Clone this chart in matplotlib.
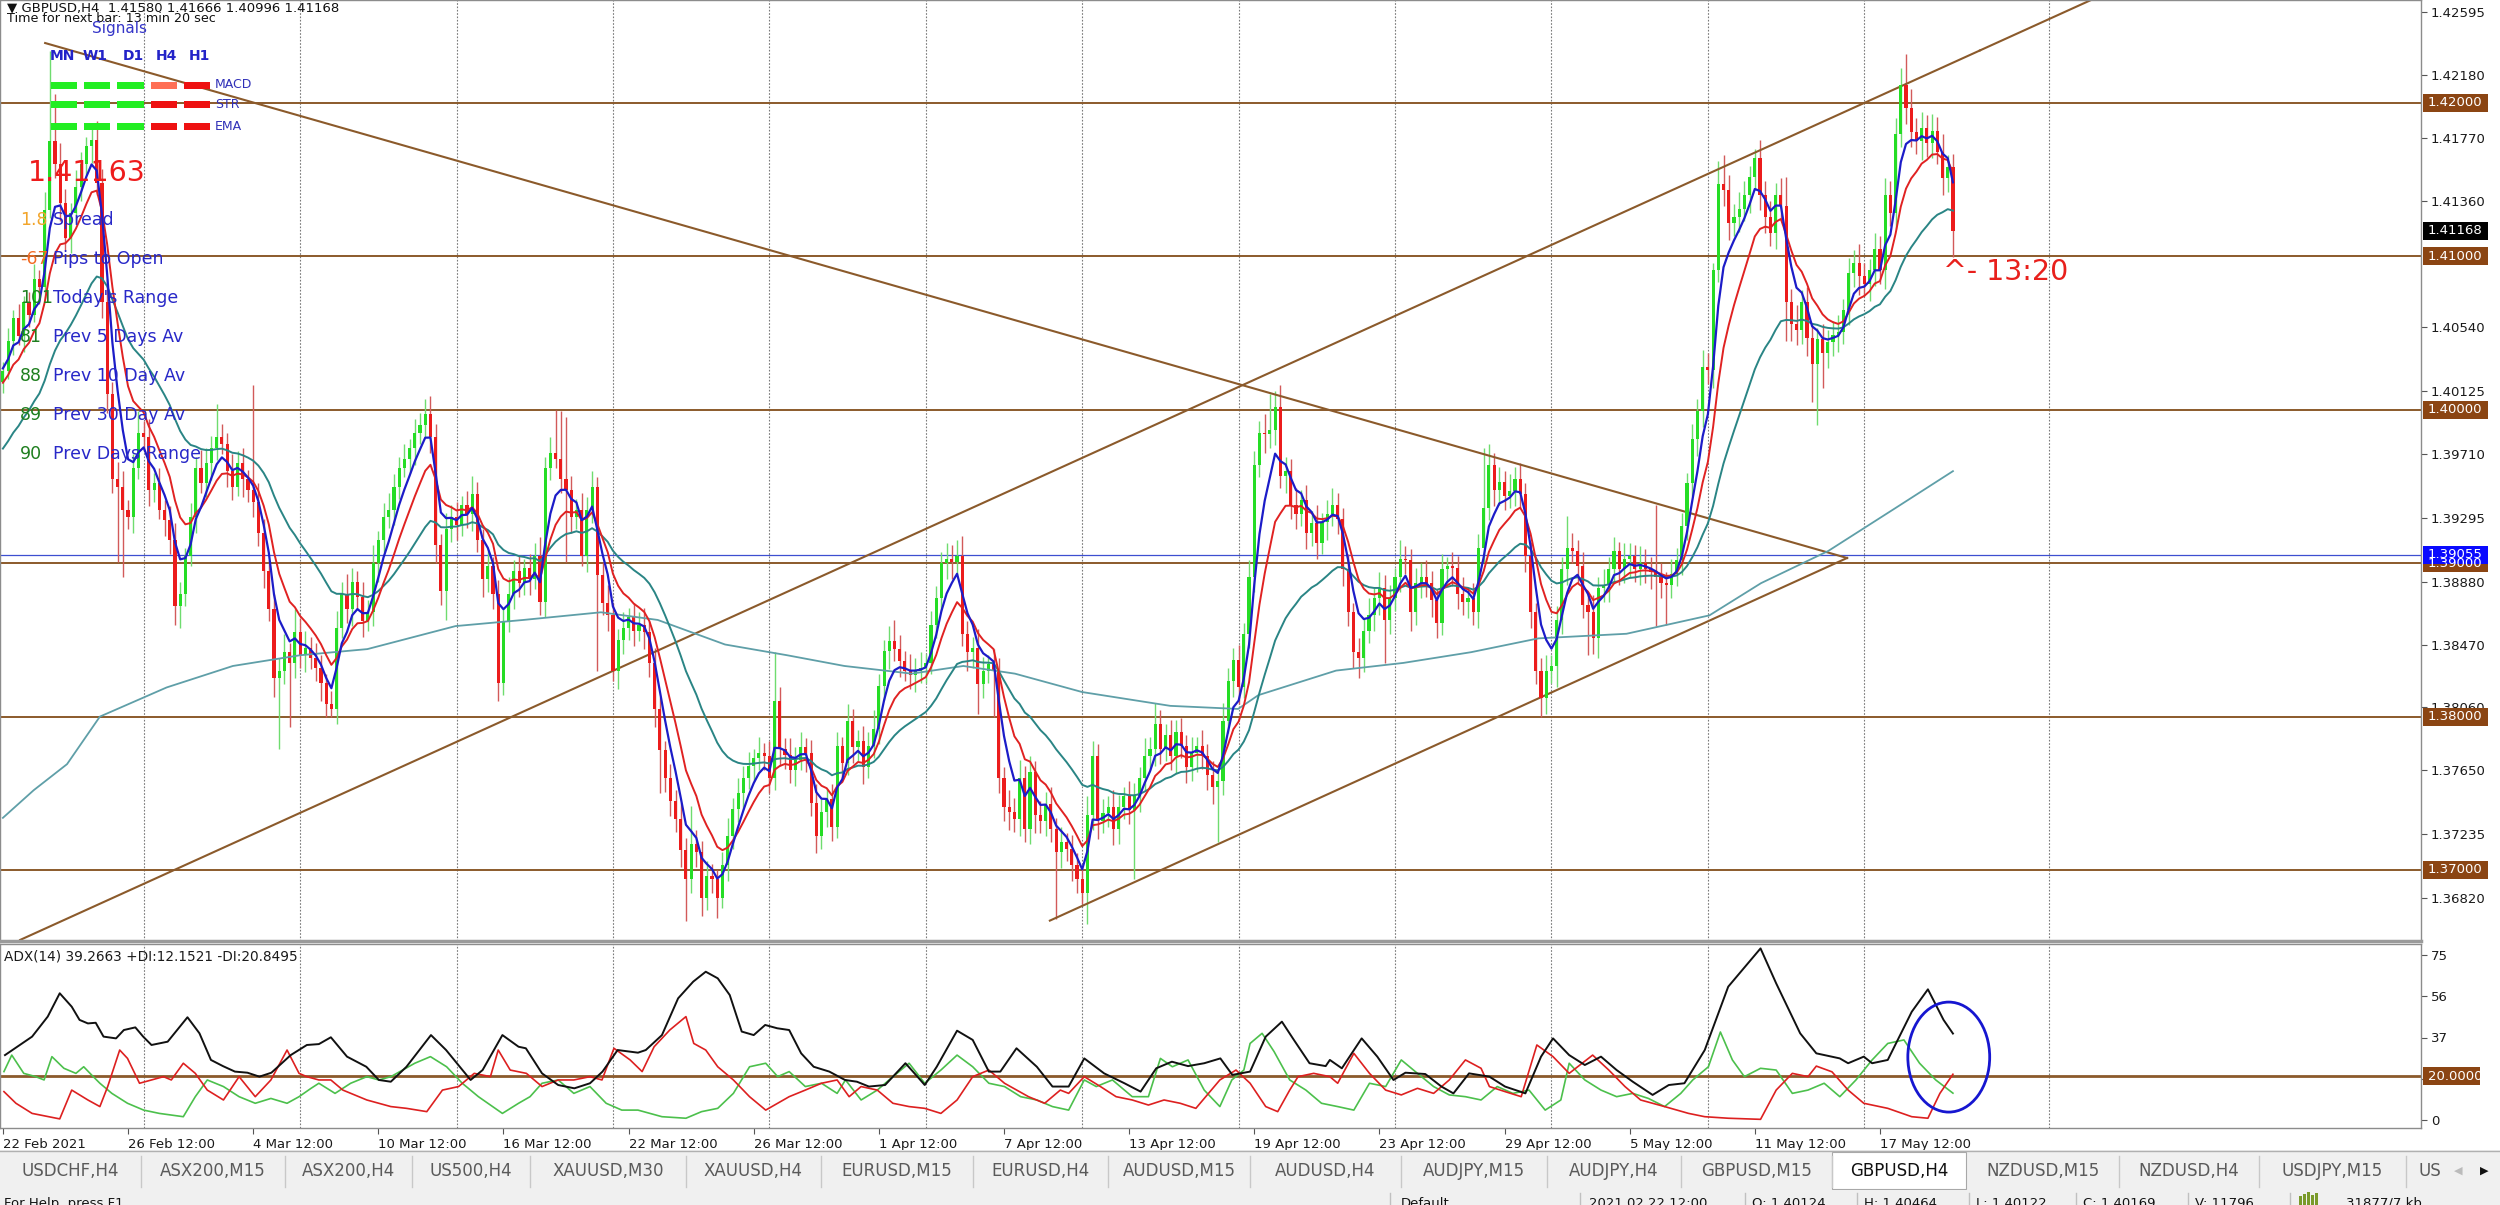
import numpy as np
import matplotlib
matplotlib.use('Agg')
import matplotlib.pyplot as plt
from matplotlib.patches import Rectangle, Ellipse

plt.rcParams['font.family'] = ['DejaVu Sans']

# ---- price data (H4 bars, closes in 1e-4 units, wicks in pips) ----
first_open = 1.4018
close_pips = [
    14025, 14045, 14060, 14048, 14070, 14062, 14085, 14080, 14130, 14175, 14160, 14135, 14112, 14128, 14145, 14160, 14172, 14176, 14148, 14070, 14010, 13955, 13950, 13935, 13930,
    13962, 13985, 13982, 13948, 13952, 13935, 13928, 13915, 13872, 13880, 13905, 13930, 13962, 13952, 13965, 13975, 13982, 13978, 13960, 13950, 13965, 13955, 13948, 13940, 13920,
    13895, 13870, 13825, 13830, 13842, 13835, 13855, 13840, 13845, 13838, 13832, 13822, 13808, 13805, 13858, 13880, 13870, 13888, 13878, 13862, 13868, 13900, 13915, 13930, 13935,
    13950, 13962, 13968, 13975, 13985, 13990, 13997, 13982, 13912, 13882, 13922, 13930, 13925, 13938, 13932, 13945, 13915, 13890, 13898, 13880, 13822, 13862, 13880, 13895, 13887,
    13897, 13890, 13905, 13875, 13962, 13972, 13968, 13955, 13948, 13930, 13935, 13905, 13935, 13950, 13892, 13874, 13866, 13830, 13850, 13858, 13865, 13856, 13860, 13855, 13835,
    13805, 13778, 13760, 13745, 13733, 13713, 13694, 13717, 13712, 13682, 13696, 13694, 13682, 13703, 13722, 13740, 13750, 13760, 13768, 13773, 13776, 13774, 13760, 13810,
    13779, 13775, 13765, 13772, 13780, 13776, 13744, 13722, 13738, 13746, 13728, 13781, 13770, 13797, 13780, 13784, 13767, 13781, 13792, 13820, 13843, 13849, 13844, 13836, 13830,
    13827, 13830, 13832, 13835, 13860, 13877, 13900, 13903, 13901, 13905, 13854, 13842, 13845, 13821, 13830, 13834, 13830, 13760, 13741, 13738, 13733, 13760, 13727, 13764, 13736,
    13732, 13743, 13727, 13712, 13718, 13714, 13703, 13694, 13685, 13736, 13774, 13732, 13737, 13741, 13727, 13741, 13748, 13739, 13748, 13760, 13774, 13779, 13795, 13779, 13788,
    13774, 13790, 13781, 13767, 13776, 13781, 13774, 13762, 13754, 13758, 13797, 13823, 13837, 13819, 13854, 13891, 13964, 13985, 13984, 13987, 14002, 13957, 13960, 13938, 13932,
    13941, 13920, 13926, 13913, 13927, 13932, 13938, 13929, 13896, 13868, 13842, 13838, 13856, 13866, 13877, 13884, 13863, 13877, 13891, 13903, 13902, 13868, 13887, 13891, 13887,
    13876, 13861, 13896, 13898, 13897, 13880, 13875, 13877, 13868, 13910, 13936, 13964, 13948, 13953, 13944, 13947, 13955, 13945, 13905, 13868, 13830, 13812, 13830, 13833,
    13863, 13896, 13910, 13908, 13898, 13873, 13868, 13851, 13884, 13886, 13896, 13908, 13896, 13903, 13905, 13896, 13900, 13896, 13894, 13891, 13887, 13886, 13893, 13902, 13924,
    13952, 13981, 13999, 14028, 14026, 14091, 14147, 14143, 14122, 14126, 14131, 14140, 14152, 14164, 14140, 14126, 14115, 14140, 14133, 14070, 14056, 14052, 14070, 14047, 14030,
    14046, 14037, 14044, 14049, 14051, 14065, 14089, 14096, 14087, 14082, 14091, 14105, 14091, 14140, 14128, 14180, 14212, 14197, 14181, 14175, 14184, 14174, 14182, 14168, 14151, 14158, 14116.8,
]
wick_up = [
    6, 8, 5, 9, 4, 7, 10, 6, 12, 59, 31, 14, 9, 7, 11, 8, 6, 10, 12, 9, 15, 8, 11, 10, 6,
    9, 14, 8, 12, 7, 10, 6, 9, 11, 8, 5, 9, 7, 12, 10, 8, 22, 9, 7, 11, 8, 10, 6, 68, 12,
    9, 7, 10, 8, 12, 6, 15, 9, 11, 7, 10, 8, 6, 9, 11, 8, 13, 9, 7, 10, 8, 12, 6, 9, 11,
    8, 7, 10, 6, 9, 8, 10, 12, 9, 7, 11, 8, 10, 6, 9, 12, 8, 7, 10, 6, 9, 8, 11, 7, 10,
    6, 9, 8, 12, 7, 10, 28, 31, 40, 9, 7, 11, 8, 10, 6, 9, 12, 8, 7, 10, 6, 9, 8, 11, 7,
    10, 8, 6, 9, 7, 11, 8, 25, 9, 7, 10, 8, 6, 9, 12, 7, 10, 8, 9, 6, 11, 7, 10, 32,
    9, 7, 11, 8, 10, 6, 9, 12, 8, 7, 10, 9, 6, 11, 8, 7, 10, 9, 12, 8, 7, 10, 14, 9, 7,
    11, 8, 10, 6, 9, 8, 7, 10, 9, 10, 13, 8, 7, 12, 9, 6, 10, 8, 7, 11, 9, 12, 8, 10, 7,
    9, 8, 11, 7, 10, 6, 9, 8, 7, 12, 10, 8, 9, 7, 11, 8, 6, 10, 9, 7, 12, 8, 14, 9, 7,
    10, 8, 9, 7, 11, 6, 10, 8, 9, 7, 12, 9, 8, 10, 7, 11, 9, 8, 12, 23, 10, 14, 9, 8, 11,
    7, 10, 8, 12, 6, 9, 11, 8, 7, 10, 6, 9, 8, 11, 7, 10, 8, 9, 6, 12, 8, 7, 10, 9, 11,
    8, 7, 10, 6, 9, 8, 11, 7, 10, 9, 39, 14, 8, 10, 7, 11, 8, 10, 7, 9, 6, 8, 10, 7,
    9, 8, 21, 10, 7, 9, 8, 11, 7, 10, 8, 9, 6, 10, 8, 7, 11, 9, 8, 44, 9, 7, 10, 8, 9,
    7, 10, 8, 11, 9, 5, 15, 19, 10, 8, 11, 9, 7, 6, 12, 9, 10, 8, 11, 19, 9, 12, 8, 10, 9,
    7, 10, 8, 9, 11, 7, 10, 8, 12, 9, 7, 10, 8, 11, 9, 10, 11, 20, 12, 9, 10, 8, 11, 9, 12, 8, 8.6,
]
wick_dn = [
    7, 5, 9, 6, 10, 8, 5, 11, 7, 5, 9, 12, 8, 10, 6, 9, 7, 11, 8, 10, 12, 9, 49, 44, 8,
    10, 7, 9, 11, 8, 6, 10, 9, 12, 14, 8, 7, 10, 6, 9, 11, 8, 7, 10, 9, 6, 12, 8, 10, 9,
    11, 8, 12, 46, 9, 42, 10, 8, 11, 7, 9, 12, 8, 5, 10, 7, 9, 11, 8, 10, 6, 9, 12, 8, 7,
    10, 8, 6, 9, 11, 7, 8, 10, 12, 9, 19, 8, 10, 7, 9, 11, 8, 12, 9, 10, 12, 8, 7, 10, 9,
    8, 11, 7, 9, 10, 8, 6, 9, 47, 10, 8, 7, 11, 9, 62, 8, 10, 7, 12, 9, 8, 10, 7, 11, 9,
    12, 28, 9, 10, 8, 11, 27, 9, 10, 12, 8, 9, 13, 7, 10, 8, 9, 11, 7, 10, 8, 9, 10, 8,
    11, 9, 8, 10, 7, 12, 9, 11, 8, 10, 9, 7, 12, 8, 10, 9, 11, 7, 8, 10, 9, 12, 8, 10, 7,
    9, 11, 8, 10, 7, 9, 8, 10, 11, 9, 8, 12, 10, 19, 9, 8, 30, 10, 9, 12, 8, 11, 9, 10, 12,
    8, 10, 9, 44, 11, 8, 10, 9, 7, 20, 10, 12, 8, 9, 11, 10, 8, 9, 45, 10, 8, 9, 11, 10, 8,
    9, 11, 8, 10, 9, 12, 8, 10, 11, 36, 9, 8, 10, 11, 7, 9, 10, 8, 12, 9, 10, 8, 11, 9, 10,
    8, 11, 9, 10, 7, 12, 8, 10, 11, 9, 10, 13, 9, 8, 10, 11, 28, 9, 8, 10, 9, 12, 8, 10, 9,
    11, 10, 8, 9, 12, 10, 9, 11, 8, 10, 9, 8, 11, 10, 9, 8, 10, 9, 11, 10, 9, 12, 10, 8,
    14, 9, 10, 8, 11, 9, 28, 10, 13, 9, 11, 8, 10, 9, 12, 8, 10, 9, 11, 32, 10, 26, 9, 8, 10,
    9, 8, 11, 10, 9, 12, 8, 10, 11, 9, 10, 8, 12, 9, 10, 11, 8, 10, 9, 25, 11, 10, 9, 12, 25,
    40, 23, 10, 9, 11, 8, 10, 9, 12, 8, 11, 10, 9, 12, 8, 10, 9, 11, 10, 8, 12, 9, 10, 8, 11, 9, 17.2,
]

# long moving average
ma_long_bar = [0, 5.9, 12.3, 18.6, 31.4, 44.1, 57.0, 69.9, 86.8, 99.8, 114.7, 125.6, 138.5, 150.4, 161.4, 174.3,
               184.2, 194.1, 207.0, 223.9, 236.9, 240.8, 255.7, 268.6, 281.6, 294.5, 311.4, 327.3, 337.2, 350.1, 363.0, 374.0]
ma_long_val = [1.3734, 1.3752, 1.3769, 1.3800, 1.3819, 1.3833, 1.3840, 1.3844, 1.3859, 1.3863, 1.3868, 1.3863, 1.3847,
               1.3840, 1.3833, 1.3828, 1.3833, 1.3828, 1.3816, 1.3807, 1.3805, 1.3814, 1.3830, 1.3835, 1.3842, 1.3851,
               1.3854, 1.3866, 1.3887, 1.3908, 1.3936, 1.3960]
ema_seeds = {5: 1.4028, 10: 1.4016, 28: 1.3971}

levels = [1.42, 1.41, 1.40, 1.39, 1.38, 1.37]
blue_level = 1.39055
trend_lines = [((8.1, 1.42391), (353.7, 1.39034)),
               ((3.3, 1.36544), (379.2, 1.42343)),
               ((200.8, 1.36670), (353.7, 1.39034))]

# ---- ADX(14) ----
adx_bar = [0.4, 5.6, 8.6, 10.9, 13.2, 14.7, 16.3, 17.8, 19.3, 21.7, 23.2, 25.4, 26.9, 28.5, 31.6, 35.4, 37.7, 39.9, 42.2, 44.5,
           46.9, 49.2, 51.5, 55.2, 58.3, 60.6, 62.9, 66.0, 69.7, 72.1, 74.4, 77.4, 82.1, 85.0, 89.7, 92.0, 95.8, 98.9, 100.3, 103.4,
           106.5, 109.6, 112.6, 115.0, 117.9, 121.8, 123.3, 126.4, 129.5, 132.4, 134.8, 137.1, 139.4, 141.7, 144.0, 146.2, 148.5, 150.8, 153.1, 155.5,
           158.5, 161.5, 163.8, 166.1, 169.2, 173.1, 175.4, 176.8, 179.1, 183.0, 186.0, 189.1, 191.3, 194.4, 198.3, 201.3, 204.4, 207.4, 211.2, 215.1,
           218.2, 221.2, 224.2, 227.3, 230.4, 233.5, 235.8, 239.2, 242.2, 245.3, 247.6, 250.6, 253.7, 254.5, 256.8, 260.6, 263.6, 266.7, 269.0, 272.8,
           275.9, 278.2, 281.2, 285.1, 288.1, 292.0, 295.0, 297.3, 300.4, 303.4, 306.5, 309.5, 312.6, 316.4, 319.5, 322.5, 326.4, 330.9, 337.1, 340.1,
           344.7, 347.8, 352.3, 353.9, 356.9, 358.5, 361.5, 366.1, 369.2, 372.2, 374.0]
adx_val = [29.5, 37.9, 47.0, 57.6, 51.5, 45.5, 43.9, 44.2, 37.9, 37.1, 40.9, 42.1, 37.9, 34.1, 35.6, 46.7, 39.4, 27.3, 24.5, 22.0,
           21.5, 19.7, 21.5, 29.5, 34.1, 34.5, 37.6, 28.8, 24.2, 18.2, 17.4, 24.2, 38.6, 31.8, 18.2, 22.7, 38.6, 33.3, 32.6, 21.2,
           15.9, 14.4, 16.7, 22.0, 31.8, 30.6, 31.8, 38.6, 55.3, 62.9, 67.4, 64.4, 56.8, 40.2, 38.6, 43.2, 41.7, 40.9, 30.3, 24.2,
           22.0, 18.2, 17.4, 15.2, 15.9, 25.8, 19.7, 15.9, 24.2, 40.6, 36.4, 22.0, 22.0, 32.6, 24.2, 15.2, 15.2, 28.0, 21.2, 16.7,
           12.9, 23.5, 26.5, 24.5, 25.8, 28.0, 20.5, 22.0, 37.9, 44.7, 36.4, 25.8, 24.5, 27.3, 23.5, 37.1, 28.8, 18.2, 21.5, 20.9,
           15.2, 12.1, 21.2, 19.7, 15.2, 12.1, 28.8, 37.1, 29.5, 25.0, 28.8, 22.7, 17.4, 11.4, 15.9, 16.7, 31.8, 60.6, 78.0, 62.1,
           39.4, 30.3, 28.0, 25.8, 28.8, 25.8, 27.3, 49.2, 59.4, 45.5, 39.3]
pdi_bar = [0.2, 1.7, 4.0, 6.3, 7.9, 9.4, 11.7, 14.0, 15.5, 17.0, 18.6, 20.9, 23.9, 27.0, 30.0, 34.6, 36.9, 39.2, 42.3, 45.3,
           48.4, 51.4, 54.5, 56.8, 59.1, 60.6, 63.7, 66.7, 69.8, 72.1, 74.4, 79.0, 82.0, 85.1, 88.1, 91.2, 95.8, 98.9, 101.1, 103.4,
           106.5, 109.5, 112.6, 115.7, 118.7, 121.8, 126.4, 131.0, 134.0, 137.1, 140.1, 143.2, 146.3, 148.6, 150.8, 153.9, 157.0, 160.0, 161.6, 164.6,
           167.7, 170.7, 173.8, 176.8, 179.9, 183.0, 186.0, 189.1, 192.1, 195.2, 198.3, 201.3, 204.4, 207.4, 209.7, 212.8, 216.6, 219.7, 222.0, 224.3,
           227.3, 230.4, 233.4, 235.7, 238.0, 239.2, 241.5, 243.8, 246.8, 249.9, 252.9, 256.0, 259.1, 262.1, 265.2, 268.2, 271.3, 274.4, 277.4, 280.5,
           283.5, 286.6, 289.6, 292.7, 295.8, 298.8, 300.4, 303.4, 306.5, 309.5, 312.6, 315.6, 318.7, 321.8, 324.1, 327.1, 329.4, 331.7, 334.0, 337.1,
           340.1, 343.2, 346.2, 349.3, 352.3, 355.4, 358.5, 361.5, 364.6, 367.6, 370.7, 374.0]
pdi_val = [22.0, 29.5, 21.2, 19.7, 18.2, 28.8, 23.5, 21.2, 24.2, 20.5, 16.7, 12.1, 7.6, 4.5, 3.0, 1.5, 10.6, 18.2, 15.2, 10.6,
           7.6, 9.8, 7.6, 10.6, 14.4, 16.7, 12.1, 16.7, 19.7, 18.2, 19.7, 25.8, 28.8, 24.2, 16.7, 10.6, 3.0, 7.6, 10.6, 16.7,
           18.2, 12.1, 15.2, 7.6, 4.5, 4.5, 1.5, 0.8, 3.8, 5.3, 12.1, 24.2, 25.8, 19.7, 22.0, 15.2, 16.7, 12.1, 18.2, 9.1,
           13.6, 19.7, 25.8, 16.7, 22.7, 29.5, 24.2, 16.7, 15.2, 10.6, 9.1, 6.1, 4.5, 18.2, 15.2, 18.2, 10.6, 10.6, 28.0, 24.2,
           27.3, 13.6, 6.1, 18.2, 22.7, 34.8, 39.4, 31.1, 18.2, 13.6, 7.6, 6.1, 4.5, 16.7, 15.2, 27.3, 21.2, 15.2, 11.4, 10.6,
           9.1, 15.2, 12.1, 13.6, 4.5, 9.1, 25.8, 18.2, 13.6, 10.6, 12.1, 9.8, 6.1, 12.1, 18.2, 24.2, 40.0, 27.3, 19.7, 23.5,
           22.7, 12.1, 13.6, 16.7, 10.6, 18.2, 27.3, 34.8, 36.4, 25.8, 18.2, 12.2]
mdi_bar = [0.2, 2.5, 5.6, 10.9, 13.2, 16.3, 18.6, 20.1, 22.4, 23.9, 26.2, 28.5, 30.8, 32.3, 34.6, 36.9, 39.2, 42.3, 45.3, 48.4,
           51.4, 54.5, 56.8, 58.3, 60.6, 62.9, 65.2, 69.8, 74.4, 77.4, 81.3, 84.3, 87.4, 90.4, 93.5, 95.0, 97.3, 100.4, 103.4, 106.5,
           109.5, 112.6, 114.9, 117.2, 120.3, 122.6, 124.9, 127.9, 131.0, 132.5, 134.8, 137.1, 140.1, 143.2, 146.3, 148.6, 150.8, 153.9, 157.0, 160.0,
           162.3, 164.6, 167.7, 170.7, 173.8, 176.8, 179.9, 183.0, 186.0, 189.1, 192.1, 196.7, 199.8, 202.8, 204.4, 207.4, 210.5, 213.5, 216.6, 219.7,
           222.7, 225.8, 228.8, 233.4, 236.5, 239.2, 242.2, 244.5, 246.8, 248.4, 251.4, 254.5, 256.0, 259.1, 262.1, 265.2, 268.2, 271.3, 274.4, 277.4,
           280.5, 283.5, 285.1, 288.1, 291.2, 294.2, 297.3, 300.4, 304.9, 308.0, 311.1, 314.1, 318.7, 323.3, 326.4, 330.9, 337.1, 340.1, 343.2, 346.2,
           347.8, 350.8, 353.9, 356.9, 361.5, 366.1, 369.2, 371.5, 374.0]
mdi_val = [12.9, 7.6, 3.0, 0.5, 13.6, 9.1, 6.1, 15.2, 31.8, 28.0, 16.7, 18.2, 19.7, 18.2, 25.8, 21.2, 13.6, 9.1, 19.7, 10.6,
           18.2, 31.8, 21.2, 19.7, 18.2, 18.2, 13.6, 9.1, 6.1, 5.3, 3.8, 13.6, 15.2, 21.2, 19.7, 31.8, 22.7, 21.2, 15.2, 18.2,
           18.2, 19.7, 18.2, 32.6, 27.3, 22.0, 33.3, 40.9, 47.0, 34.8, 31.8, 24.2, 18.2, 10.6, 4.5, 7.6, 10.6, 13.6, 16.7, 18.2,
           10.6, 15.2, 13.6, 7.6, 6.1, 5.3, 3.0, 9.1, 19.7, 22.7, 16.7, 10.6, 7.6, 13.6, 12.1, 19.7, 15.2, 10.6, 9.1, 6.8,
           9.1, 7.6, 5.3, 18.2, 22.7, 16.7, 6.1, 3.8, 13.6, 19.7, 21.2, 19.7, 16.7, 30.3, 21.2, 13.6, 11.4, 14.4, 12.1, 18.2,
           27.3, 23.5, 15.2, 12.9, 10.6, 34.1, 28.8, 21.2, 29.5, 22.7, 15.2, 9.1, 6.1, 3.0, 1.5, 0.8, 0.3, 13.6, 21.2, 19.7,
           24.5, 21.9, 13.6, 7.6, 5.3, 1.5, 0.8, 12.1, 20.8]

price_ticks = [1.42595, 1.42180, 1.41770, 1.41360, 1.40540, 1.40125, 1.39710, 1.39295,
               1.38880, 1.38470, 1.38060, 1.37650, 1.37235, 1.36820]
date_labels = ['22 Feb 2021', '26 Feb 12:00', '4 Mar 12:00', '10 Mar 12:00', '16 Mar 12:00', '22 Mar 12:00',
               '26 Mar 12:00', '1 Apr 12:00', '7 Apr 12:00', '13 Apr 12:00', '19 Apr 12:00', '23 Apr 12:00',
               '29 Apr 12:00', '5 May 12:00', '11 May 12:00', '17 May 12:00']
tab_names = ['USDCHF,H4', 'ASX200,M15', 'ASX200,H4', 'US500,H4', 'XAUUSD,M30', 'XAUUSD,H4', 'EURUSD,M15',
             'EURUSD,H4', 'AUDUSD,M15', 'AUDUSD,H4', 'AUDJPY,M15', 'AUDJPY,H4', 'GBPUSD,M15', 'GBPUSD,H4',
             'NZDUSD,M15', 'NZDUSD,H4', 'USDJPY,M15']
stats = [('1.8', 'Spread', '#f2a52b'), ('-67', 'Pips to Open', '#f26a22'), ('101', "Today's Range", '#1f7f1f'),
         ('81', 'Prev 5 Days Av', '#1f7f1f'), ('88', 'Prev 10 Day Av', '#1f7f1f'),
         ('89', 'Prev 30 Day Av', '#1f7f1f'), ('90', 'Prev Days Range', '#1f7f1f')]

for lst in (wick_up, wick_dn):
    assert len(lst) == len(close_pips)

BROWN = '#8b5a2b'
W, H = 2500, 1205
PX_BAR = 5.214          # screen pixels per bar
XL = (-0.556, (W - 79 - 2.9) / PX_BAR)
PPX = 15340.0           # pixels per price unit


def ema(values, period, seed):
    k = 2.0 / (period + 1)
    out = np.empty(len(values))
    prev = seed
    for i, v in enumerate(values):
        prev = prev + k * (v - prev)
        out[i] = prev
    return out


close = np.array(close_pips) / 1e4
n = len(close)
idx = np.arange(n)
opn = np.r_[first_open, close[:-1]]
high = np.maximum(opn, close) + np.array(wick_up) / 1e4
low = np.minimum(opn, close) - np.array(wick_dn) / 1e4
bull = close >= opn

fig = plt.figure(figsize=(W / 100, H / 100), dpi=100)
fig.patch.set_facecolor('white')
ax = fig.add_axes([0, 1 - 941 / H, 2421 / W, 941 / H])
adx = fig.add_axes([0, 1 - 1128 / H, 2421 / W, (1128 - 944) / H])

ax.set_xlim(*XL)
ax.set_ylim(1.42 - (941 - 103) / PPX, 1.42 + 103 / PPX)
adx.set_xlim(*XL)
adx.set_ylim((1120 - 1128) / 2.2, (1120 - 944) / 2.2)

grid_bars = list(range(27, 358, 30)) + [392.5]
for a in (ax, adx):
    for g in grid_bars:
        a.axvline(g, color='#7a7a7a', lw=0.8, ls=(0, (1.5, 1.5)), zorder=0.5)
    for s in a.spines.values():
        s.set_color('#8c8c8c')
        s.set_linewidth(1)
ax.spines['bottom'].set_linewidth(2.5)
ax.spines['bottom'].set_color('#9a9a9a')

# levels and trend lines
for lv in levels:
    ax.axhline(lv, color=BROWN, lw=1.4, zorder=1)
ax.axhline(blue_level, color='#3d4fd0', lw=0.9, zorder=1)
for (x0, y0), (x1, y1) in trend_lines:
    ax.plot([x0, x1], [y0, y1], color=BROWN, lw=1.5, zorder=2.5)
# extend the long rising line up to the chart top
(x0, y0), (x1, y1) = trend_lines[1]
slope = (y1 - y0) / (x1 - x0)
ax.plot([x1, 420], [y1, y1 + slope * (420 - x1)], color=BROWN, lw=1.5, zorder=2.5)

# candles
ax.vlines(idx[bull], low[bull], high[bull], color='#6fdc6f', lw=1.0, zorder=2)
ax.vlines(idx[~bull], low[~bull], high[~bull], color='#d25a5a', lw=1.0, zorder=2)
body = np.maximum(np.abs(close - opn), 0.00008)
bot = np.minimum(opn, close)
ax.bar(idx[bull], body[bull], bottom=bot[bull], width=0.6, color='#25dd25', lw=0, zorder=3)
ax.bar(idx[~bull], body[~bull], bottom=bot[~bull], width=0.6, color='#ec1c1c', lw=0, zorder=3)

# moving averages
ax.plot(ma_long_bar, ma_long_val, color='#5f9fa8', lw=1.3, zorder=3.5)
ax.plot(idx, ema(close, 28, ema_seeds[28]), color='#2a8585', lw=1.4, zorder=3.6)
ax.plot(idx, ema(close, 10, ema_seeds[10]), color='#e02222', lw=1.4, zorder=3.7)
ax.plot(idx, ema(close, 5, ema_seeds[5]), color='#1c1cc8', lw=1.6, zorder=3.8)

# right price scale
ax.set_xticks([])
ax.yaxis.tick_right()
ax.set_yticks(price_ticks)
ax.set_yticklabels([f'{t:.5f}' for t in price_ticks])
ax.tick_params(axis='y', length=4, width=0.8, color='#555555', labelsize=9.5, labelcolor='#1a1a1a', pad=3)


def scale_box(a, y, text, fc, h, w=0.0268):
    tr = a.get_yaxis_transform()
    a.add_patch(Rectangle((1.0008, y - h / 2), w, h, transform=tr, fc=fc, ec='none', clip_on=False, zorder=6))
    a.text(1.0028, y, text, transform=tr, ha='left', va='center', color='white', fontsize=9.5,
           clip_on=False, zorder=7)


hbox = 18 / PPX
for lv in levels:
    scale_box(ax, lv, f'{lv:.5f}', '#8b4513', hbox)
scale_box(ax, blue_level, f'{blue_level:.5f}', '#0a0aff', hbox)
scale_box(ax, close[-1], f'{close[-1]:.5f}', '#000000', hbox)

# ADX panel
adx.axhline(20, color=BROWN, lw=2.0, zorder=1)
adx.plot(pdi_bar, pdi_val, color='#4cc04c', lw=1.2, zorder=3)
adx.plot(mdi_bar, mdi_val, color='#dd2020', lw=1.2, zorder=3)
adx.plot(adx_bar, adx_val, color='#111111', lw=1.4, zorder=4)
adx.add_patch(Ellipse((373.2, 28.6), 15.7, 50, fill=False, ec='#1616d0', lw=2.0, zorder=5, clip_on=False))
adx.yaxis.tick_right()
adx.set_yticks([0, 18.75, 37.5, 56.25, 75])
adx.set_yticklabels(['0', '18', '37', '56', '75'])
adx.tick_params(axis='y', length=4, width=0.8, color='#555555', labelsize=9.5, labelcolor='#1a1a1a', pad=3)
scale_box(adx, 20, '20.0000', '#8b4513', 18 / 2.2, w=0.0235)
adx.set_xticks(np.arange(len(date_labels)) * 24)
adx.set_xticklabels(date_labels, ha='left')
adx.tick_params(axis='x', length=4, width=0.8, color='#555555', labelsize=9.5, labelcolor='#1a1a1a', pad=3)
adx.text(0.0016, 0.93, 'ADX(14) 39.2663 +DI:12.1521 -DI:20.8495', transform=adx.transAxes,
         ha='left', va='center', fontsize=9.8, color='#1a1a1a')

# overlay in screen pixels for the terminal chrome and indicator text
ov = fig.add_axes([0, 0, 1, 1], zorder=10)
ov.set_xlim(0, W)
ov.set_ylim(H, 0)
ov.axis('off')
ov.patch.set_alpha(0)

ov.text(7, 8, '\u25bc GBPUSD,H4  1.41580 1.41666 1.40996 1.41168', fontsize=9.5, va='center', color='#111111')
ov.text(7, 18, 'Time for next bar: 13 min 20 sec', fontsize=9.2, va='center', color='#111111')
ov.text(92, 28, 'Signals', fontsize=11, va='center', color='#3535c8')
for lab, xc in zip(['MN', 'W1', 'D1', 'H4', 'H1'], [62, 95, 133, 166, 199]):
    ov.text(xc, 56, lab, fontsize=10, fontweight='bold', ha='center', va='center', color='#2323c8')
sig_rows = [('MACD', 85, ['#22ee22', '#22ee22', '#22ee22', '#ff6f55', '#ee1111']),
            ('STR', 104, ['#22ee22', '#22ee22', '#22ee22', '#ee1111', '#ee1111']),
            ('EMA', 126, ['#22ee22', '#22ee22', '#22ee22', '#ee1111', '#ee1111'])]
for name, yc, cols in sig_rows:
    for (xa, xb), c in zip([(51, 77), (84, 110), (117, 144), (151, 177), (184, 210)], cols):
        ov.add_patch(Rectangle((xa, yc - 3.5), xb - xa, 7, fc=c, ec='none'))
    ov.text(215, yc, name, fontsize=9, va='center', color='#3030b8')
ov.text(28, 173, '1.41163', fontsize=20.5, va='center', color='#ee1c1c')
for k, (num, lab, col) in enumerate(stats):
    yc = 220 + 39 * k
    ov.text(20, yc, num, fontsize=12.5, va='center', color=col)
    ov.text(53, yc, lab, fontsize=12.5, va='center', color='#2828c8')
ov.text(1943, 272, '^- 13:20', fontsize=20.5, va='center', color='#e8201c')

# tabs bar
tab_edges = [0, 141, 285, 412, 530, 686, 821, 973, 1108, 1250, 1401, 1547, 1681, 1832, 1966, 2119, 2259, 2406]
ov.add_patch(Rectangle((0, 1150), W, 40, fc='#f0f0f0', ec='none'))
ov.plot([0, W], [1150.5, 1150.5], color='#b0b0b0', lw=1)
for name, xa, xb in zip(tab_names, tab_edges[:-1], tab_edges[1:]):
    active = name == 'GBPUSD,H4'
    if active:
        ov.add_patch(Rectangle((xa, 1152), xb - xa, 37, fc='white', ec='#a8a8a8', lw=0.8))
    else:
        ov.plot([xb, xb], [1156, 1187], color='#c8c8c8', lw=1)
    ov.text((xa + xb) / 2, 1171, name, fontsize=12, ha='center', va='center',
            color='#111111' if active else '#5a5a5a')
ov.text(2418, 1171, 'US', fontsize=12, ha='left', va='center', color='#5a5a5a', clip_on=True)
ov.add_patch(Rectangle((2446, 1152), 54, 37, fc='#f0f0f0', ec='none'))
ov.text(2458, 1171, '\u25c0', fontsize=8, ha='center', va='center', color='#bbbbbb')
ov.text(2484, 1171, '\u25b6', fontsize=8, ha='center', va='center', color='#111111')

# status bar (cut by the bottom edge)
ov.add_patch(Rectangle((0, 1190), W, 15, fc='#f0f0f0', ec='none'))
for x, s in [(4, 'For Help, press F1'), (1401, 'Default'), (1589, '2021.02.22 12:00'), (1752, 'O: 1.40124'),
             (1864, 'H: 1.40464'), (1976, 'L: 1.40122'), (2083, 'C: 1.40169'), (2195, 'V: 11796'),
             (2346, '31877/7 kb')]:
    ov.text(x, 1197, s, fontsize=9.5, va='top', color='#111111')
for x in [1390, 1580, 1745, 1857, 1969, 2076, 2188, 2290]:
    ov.plot([x, x], [1193, 1205], color='#c0c0c0', lw=1)
for j, hgt in enumerate([9, 11, 13, 10, 12]):
    ov.add_patch(Rectangle((2299 + j * 4, 1205 - hgt), 2.5, hgt, fc='#7a9a2a', ec='none'))

fig.savefig('out.png', dpi=100, facecolor='white')
